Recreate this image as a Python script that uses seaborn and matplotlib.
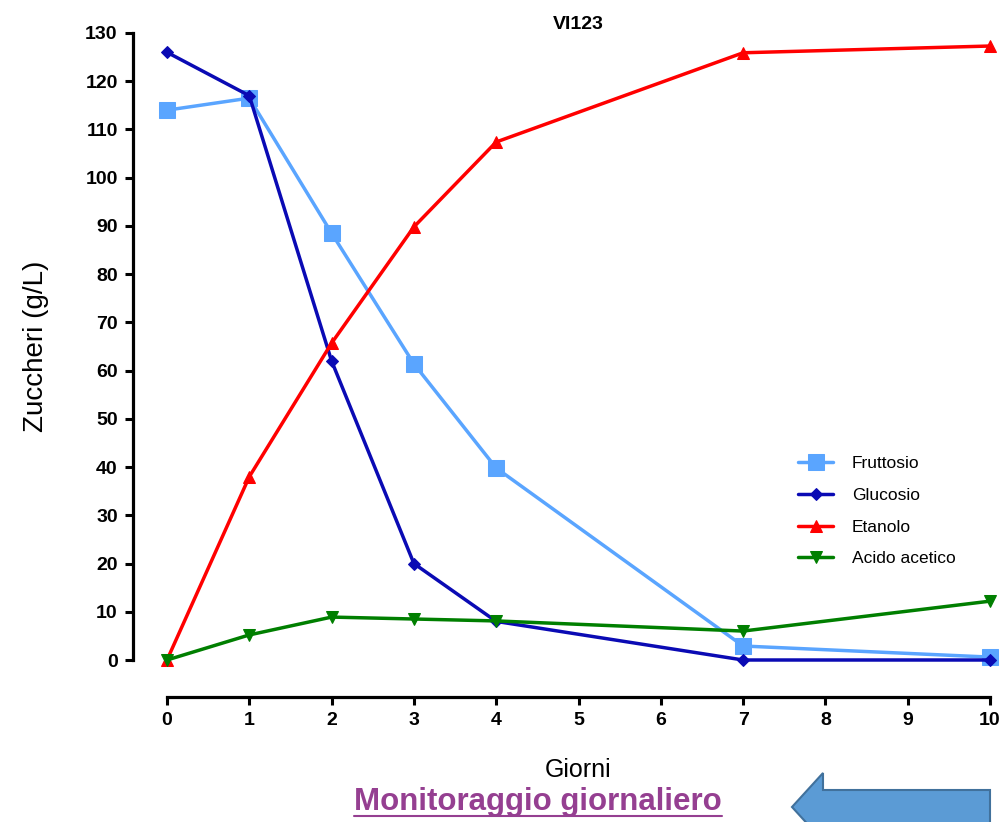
import pandas as pd
import matplotlib.pyplot as plt
import matplotlib.patches as mpatches
from matplotlib.lines import Line2D
import seaborn as sns

# Data
giorni = [0, 1, 2, 3, 4, 7, 10]
fruttosio = [114.0, 116.5, 88.5, 61.4, 39.8, 2.9, 0.6]
glucosio = [126.0, 117.0, 62.0, 20.0, 8.0, 0.0, 0.0]
etanolo = [0.0, 38.0, 65.7, 89.8, 107.4, 125.9, 127.3]
acido_acetico = [0.0, 5.2, 8.9, 8.5, 8.1, 6.0, 12.2]

serie = ['Fruttosio', 'Glucosio', 'Etanolo', 'Acido acetico']
valori = [fruttosio, glucosio, etanolo, acido_acetico]
colori = ['#5AA5FF', '#0A0AB4', '#FF0000', '#007F00']
marcatori = ['s', 'D', '^', 'v']
dim_marcatori = [12, 6, 9, 9]

x_ticks = list(range(0, 11))
y_ticks = list(range(0, 131, 10))

df = pd.DataFrame({
    'Giorni': giorni * len(serie),
    'Valore': sum(valori, []),
    'Serie': [s for s in serie for _ in giorni],
})

sns.set_style("ticks")
plt.rcParams['font.family'] = ['Liberation Sans', 'DejaVu Sans']
plt.rcParams.update({'text.color': 'black', 'axes.labelcolor': 'black',
                     'xtick.color': 'black', 'ytick.color': 'black',
                     'axes.edgecolor': 'black'})

fig = plt.figure(figsize=(10.06, 8.22), dpi=100)
ax = fig.add_axes([167 / 1006, 162 / 822, 823 / 1006, 627 / 822])

for s, c, m, ms in zip(serie, colori, marcatori, dim_marcatori):
    sns.lineplot(data=df[df['Serie'] == s], x='Giorni', y='Valore', ax=ax,
                 color=c, marker=m, markersize=ms, markeredgecolor=c,
                 linewidth=2.5, label=s, clip_on=False, zorder=3)

# offset spines first (set_position resets tick styling)
sns.despine(ax=ax)
ax.spines['left'].set_position(('outward', 24.5))
ax.spines['bottom'].set_position(('outward', 26.6))
for sp in ['left', 'bottom']:
    ax.spines[sp].set_linewidth(2.3)
    ax.spines[sp].set_color('black')

ax.set_xlim(0, 10)
ax.set_ylim(0, 130)
ax.set_xticks(x_ticks)
ax.set_yticks(y_ticks)
ax.set_xticklabels([str(t) for t in x_ticks], fontsize=14, fontweight='bold')
ax.set_yticklabels([str(t) for t in y_ticks], fontsize=14, fontweight='bold')
ax.tick_params(axis='both', length=6, width=2.2, color='black',
               labelcolor='black', pad=5)

ax.set_xlabel('')
ax.set_ylabel('Zuccheri (g/L)', fontsize=20, labelpad=26, color='black')
ax.set_title('VI123', fontsize=14, fontweight='bold', pad=3, color='black')

leg = ax.legend(loc='upper left', bbox_to_anchor=(0.748, 0.35), frameon=False,
                fontsize=12.5, handlelength=2.0, labelspacing=0.95, handletextpad=1.1)
for txt in leg.get_texts():
    txt.set_color('black')

fig.text(578 / 1006, 1 - 770 / 822, 'Giorni', fontsize=18, ha='center', va='center')

t = fig.text(538 / 1006, 1 - 802 / 822, 'Monitoraggio giornaliero', fontsize=22.5,
             fontweight='bold', color='#953F91', ha='center', va='center')
fig.canvas.draw()
bb = t.get_window_extent().transformed(fig.transFigure.inverted())
fig.add_artist(Line2D([bb.x0, bb.x1], [bb.y0 + 0.001, bb.y0 + 0.001],
                      transform=fig.transFigure, color='#953F91', linewidth=1.5))

# arrow pointing left
W, H = 1006, 822
pts = [(792, 807), (823, 773), (823, 790), (990, 790), (990, 824),
       (823, 824), (823, 841)]
arrow = mpatches.Polygon([(px / W, 1 - py / H) for px, py in pts], closed=True,
                         transform=fig.transFigure, facecolor='#5B9BD5',
                         edgecolor='#41719C', linewidth=1.5, clip_on=False)
fig.add_artist(arrow)

plt.savefig('out.png', dpi=100)
